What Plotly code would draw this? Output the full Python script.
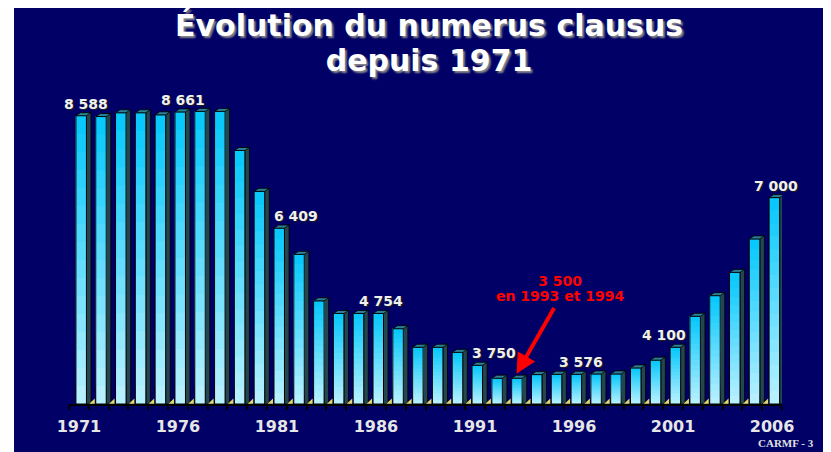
import plotly.graph_objects as go

# ---------------- data ----------------
years = list(range(1971, 2007))
numerus = [8588, 8571, 8645, 8645, 8605, 8661, 8671, 8671, 7913, 7121,
           6409, 5900, 5000, 4754, 4754, 4754, 4460, 4100, 4100, 4000,
           3750, 3500, 3500, 3570, 3576, 3576, 3583, 3583, 3700, 3850,
           4100, 4700, 5100, 5550, 6200, 7000]
labelled_years = [1971, 1976, 1981, 1986, 1991, 1996, 2001, 2006]
tick_years = [1971, 1976, 1981, 1986, 1991, 1996, 2001, 2006]
title_lines = ["Évolution du numerus clausus", "depuis 1971"]
note_lines = ["3 500", "en 1993 et 1994"]
note_year = 1993
source_text = "CARMF - 3"

# ---------------- layout geometry / style ----------------
PAGE = 8                            # default page margin around the figure
W, H = 831 - PAGE, 452 - PAGE
ML, MR, MT, MB = 61, 49, 72, 48
Y0 = 3000
PPU = 0.0516                        # pixels per unit on the y axis
PLOT_W = W - ML - MR
PLOT_H = H - MT - MB
Y1 = Y0 + PLOT_H / PPU
X0, X1 = years[0] - 0.5, years[-1] + 0.5
PX_PER_YEAR = PLOT_W / (X1 - X0)

# helpers: window pixel -> axis / paper coordinates (for text placement)
def px_x(px):
    return X0 + (px - PAGE - ML) / PX_PER_YEAR

def px_y(py):
    return Y0 + (H - MB - (py - PAGE)) / PPU

def paper_x(px):
    return (px - PAGE - ML) / PLOT_W

def paper_y(py):
    return (H - MB - (py - PAGE)) / PLOT_H

NAVY = "#000066"
FRONT_OFF, FRONT_W, SIDE_W = -0.15, 0.53, 0.23
DEPTH = 3 / PPU
N_SEG = 16
C_BOTTOM = (182, 240, 255)
C_TOP = (8, 200, 252)
FONT = "DejaVu Sans"

heights = [v - Y0 for v in numerus]

fig = go.Figure()

# side faces
fig.add_trace(go.Bar(
    x=years, y=[h + DEPTH for h in heights], base=Y0,
    offset=FRONT_OFF + FRONT_W, width=SIDE_W,
    marker=dict(color="#24464f", line=dict(color="black", width=0.8)),
    hoverinfo="skip"))

# top faces
tx, ty = [], []
for yr, v in zip(years, numerus):
    l = yr + FRONT_OFF
    r = l + FRONT_W
    tx += [l, r, r + SIDE_W, l + SIDE_W, l, None]
    ty += [v, v, v + DEPTH, v + DEPTH, v, None]
fig.add_trace(go.Scatter(
    x=tx, y=ty, mode="lines", fill="toself", fillcolor="#2b7f96",
    line=dict(color="black", width=0.8), hoverinfo="skip"))

# front faces with vertical gradient (stacked overlays)
for k in range(N_SEG):
    t = k / (N_SEG - 1)
    col = "rgb(%d,%d,%d)" % tuple(round(C_BOTTOM[i] + (C_TOP[i] - C_BOTTOM[i]) * t) for i in range(3))
    fig.add_trace(go.Bar(
        x=years, y=[h * (N_SEG - k) / N_SEG for h in heights],
        base=[Y0 + h * k / N_SEG for h in heights],
        offset=FRONT_OFF, width=FRONT_W,
        marker=dict(color=col, line=dict(width=0)), hoverinfo="skip"))

# front outline
fig.add_trace(go.Bar(
    x=years, y=heights, base=Y0, offset=FRONT_OFF, width=FRONT_W,
    marker=dict(color="rgba(0,0,0,0)", line=dict(color="black", width=1)),
    hoverinfo="skip"))

# floor wedges
fig.add_trace(go.Scatter(
    x=[yr + FRONT_OFF + FRONT_W + SIDE_W + 0.1 for yr in years],
    y=[Y0 + 2 / PPU] * len(years), mode="markers",
    marker=dict(symbol="triangle-se", size=6, color="#e4d86a"),
    cliponaxis=False, hoverinfo="skip"))

annotations = []
# value labels
label_shift = {1971: 7, 1976: 5, 1981: 19, 1986: 5, 1991: 19, 1996: 7, 2001: -9, 2006: 4}
for yr in labelled_years:
    v = numerus[years.index(yr)]
    annotations.append(dict(
        x=yr, y=v, xref="x", yref="y", text=f"{v:,}".replace(",", " "),
        showarrow=False, yanchor="bottom", xanchor="center",
        xshift=label_shift.get(yr, 5), yshift=2,
        font=dict(family=FONT, size=14, color="#f0f0f0", weight="bold",
                  shadow="1px 1px 1px #222")))

# title (base size sets line spacing, spans set glyph size)
annotations.append(dict(
    x=paper_x(429), y=paper_y(43), xref="paper", yref="paper",
    text="<br>".join(f"<span style='font-size:30px'>{s}</span>" for s in title_lines),
    showarrow=False, xanchor="center", yanchor="middle", align="center",
    font=dict(family=FONT, size=27, color="white", weight="bold",
              shadow="2px 2px 2px #8a8a8a")))

# red note
annotations.append(dict(
    x=px_x(560), y=px_y(288.7), xref="x", yref="y",
    text="<br>".join(f"<span style='font-size:14px'>{s}</span>" for s in note_lines),
    showarrow=False, xanchor="center", yanchor="middle", align="center",
    font=dict(family=FONT, size=11.5, color="#ff0000", weight="bold")))

note_v = numerus[years.index(note_year)]
annotations.append(dict(
    x=note_year - 0.03, y=note_v, xref="x", yref="y", text="",
    showarrow=True, axref="x", ayref="y",
    ax=px_x(555), ay=px_y(306.5), standoff=5,
    arrowcolor="#ff0000", arrowwidth=4, arrowhead=2, arrowsize=1))

# source
annotations.append(dict(
    x=paper_x(786), y=paper_y(443), xref="paper", yref="paper",
    text=source_text, showarrow=False, xanchor="center", yanchor="middle",
    font=dict(family="Liberation Serif", size=11, color="#e0e0e0", weight="bold")))

fig.update_layout(
    width=W, height=H,
    margin=dict(l=ML, r=MR, t=MT, b=MB, pad=0),
    paper_bgcolor="white", plot_bgcolor="rgba(0,0,0,0)",
    barmode="overlay", showlegend=False, hovermode=False,
    annotations=annotations,
    shapes=[dict(type="rect", xref="paper", yref="paper", layer="below",
                 x0=paper_x(14), x1=paper_x(840), y0=paper_y(460), y1=paper_y(7),
                 fillcolor=NAVY, line=dict(width=0))],
    xaxis=dict(range=[X0, X1], showgrid=False, zeroline=False,
               showline=True, linecolor="black", linewidth=2,
               tickmode="array", tickvals=tick_years, ticktext=[str(t) for t in tick_years],
               ticks="", ticklabelstandoff=7,
               tickfont=dict(family=FONT, size=16, color="#e6e6e6", weight="bold"),
               minor=dict(tickmode="linear", tick0=X0, dtick=1, ticks="outside",
                          ticklen=4, tickwidth=1.5, tickcolor="black", showgrid=False)),
    yaxis=dict(range=[Y0, Y1], visible=False, showgrid=False, zeroline=False),
)

fig.write_html("out.html")
